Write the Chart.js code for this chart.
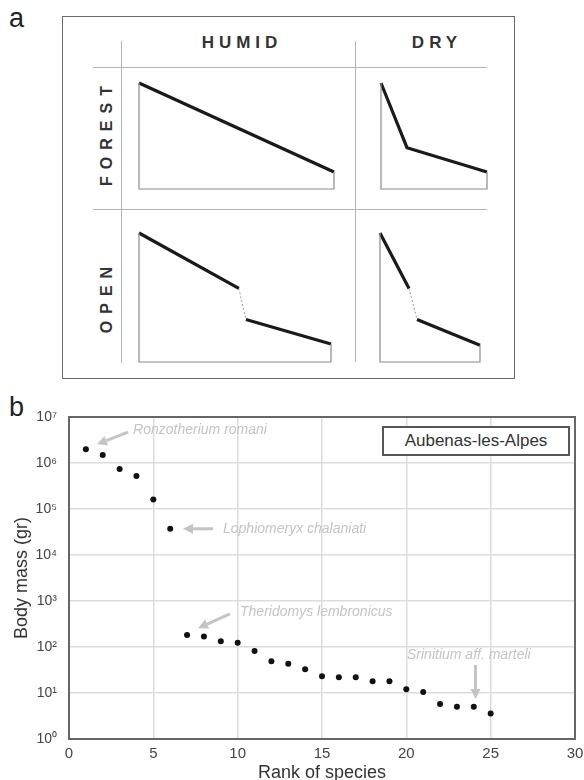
<!DOCTYPE html>
<html>
<head>
<meta charset="utf-8">
<script src="https://cdn.jsdelivr.net/npm/chart.js@4.4.0/dist/chart.umd.min.js"></script>
<style>
body { margin: 0; background: #fff; font-family: "Liberation Sans", Arial, sans-serif; }
#page { position: relative; width: 584px; height: 780px; overflow: hidden; }
.abs { position: absolute; }
.hl { position: absolute; height: 1px; background: #b4b4b4; }
.vl { position: absolute; width: 1px; background: #b4b4b4; }
.head { position: absolute; font-weight: bold; font-size: 17px; letter-spacing: 5px; color: #333; text-align: center; line-height: 20px; }
.side { position: absolute; width: 160px; margin-left: -80px; margin-top: -10px; font-weight: bold; font-size: 16px; letter-spacing: 7px; color: #333; text-align: center; line-height: 20px; transform: rotate(-90deg); }
.panel { position: absolute; font-size: 27px; color: #222; line-height: 30px; }
#tag { position: absolute; left: 382px; top: 426px; width: 184px; height: 26px; border: 2px solid #555; font-size: 17px; color: #333; line-height: 26px; text-align: center; background: #fff; }
</style>
</head>
<body>
<div id="page">
  <div class="panel" style="left:9px;top:3px;">a</div>
  <div class="abs" style="left:62px;top:16px;width:451px;height:361px;border:1.5px solid #6a6a6a;"></div>
  <div class="hl" style="left:93px;top:67px;width:394px;"></div>
  <div class="hl" style="left:93px;top:209px;width:394px;"></div>
  <div class="vl" style="left:121px;top:41px;height:322px;"></div>
  <div class="vl" style="left:355px;top:41px;height:321px;"></div>
  <div class="head" style="left:137px;top:33px;width:200px;padding-left:5px;">HUMID</div>
  <div class="head" style="left:362px;top:33px;width:140px;padding-left:5px;">DRY</div>
  <div class="side" style="left:103px;top:136px;padding-left:7px;">FOREST</div>
  <div class="side" style="left:103px;top:300px;padding-left:7px;">OPEN</div>

  <canvas id="fh" class="abs" width="203" height="114" style="left:135px;top:79px;"></canvas>
  <canvas id="fd" class="abs" width="114" height="114" style="left:377px;top:79px;"></canvas>
  <canvas id="oh" class="abs" width="200" height="137" style="left:135px;top:229px;"></canvas>
  <canvas id="od" class="abs" width="108" height="137" style="left:376px;top:229px;"></canvas>

  <div class="panel" style="left:9px;top:392px;">b</div>
  <canvas id="massChart" class="abs" width="584" height="390" style="left:0;top:390px;"></canvas>
  <div id="tag">Aubenas-les-Alpes</div>
</div>
<script>
// panel a: schematic rank-size curves (x and y scaled 0..1), split where a gap occurs
var forestHumid = [[[0, 1], [1, 0.16]]];
var forestDry = [[[0, 1], [0.245, 0.39], [1, 0.16]]];
var openHumid = [[[0, 1], [0.52, 0.57]], [[0.557, 0.33], [1, 0.14]]];
var openDry = [[[0, 1], [0.29, 0.57]], [[0.37, 0.33], [1, 0.13]]];

// panel b: body mass by rank
var ranks = [1, 2, 3, 4, 5, 6, 7, 8, 9, 10, 11, 12, 13, 14, 15, 16, 17, 18, 19, 20, 21, 22, 23, 24, 25];
var bodyMass = [2.0e6, 1.5e6, 7.4e5, 5.2e5, 1.6e5, 3.7e4, 182, 170, 133, 124, 82, 49, 43, 33, 23, 22, 22, 18, 18, 12, 10.5, 5.8, 5.0, 5.0, 3.6];
var xTicks = [0, 5, 10, 15, 20, 25, 30];
var yTicks = [1, 10, 100, 1e3, 1e4, 1e5, 1e6, 1e7];
var yTickLabels = ["10⁰", "10¹", "10²", "10³", "10⁴", "10⁵", "10⁶", "10⁷"];

// species notes: label position and arrow, in data units (x rank, y log10 mass)
var noteTexts = ["Ronzotherium romani", "Lophiomeryx chalaniati", "Theridomys lembronicus", "Srinitium aff. marteli"];
var noteAt = [[3.8, 6.72], [9.13, 4.57], [10.14, 2.76], [20.04, 1.83]];
var arrowFrom = [[3.5, 6.67], [8.54, 4.57], [9.54, 2.72], [24.1, 1.61]];
var arrowTo = [[1.66, 6.41], [6.76, 4.57], [7.65, 2.41], [24.1, 0.87]];

function pts(seg) {
  return seg.map(function (p) { return { x: p[0], y: p[1] }; });
}

function schematic(id, segs) {
  var first = segs[0][0];
  var lastSeg = segs[segs.length - 1];
  var last = lastSeg[lastSeg.length - 1];
  var sets = [{
    data: pts([[first[0], first[1]], [first[0], 0], [last[0], 0], [last[0], last[1]]]),
    borderColor: "#8a8a8a", borderWidth: 1.2
  }];
  for (var i = 0; i < segs.length; i++) {
    if (i > 0) {
      var a = segs[i - 1][segs[i - 1].length - 1];
      sets.push({ data: pts([a, segs[i][0]]), borderColor: "#9a9a9a", borderWidth: 1, borderDash: [2, 2] });
    }
    sets.push({ data: pts(segs[i]), borderColor: "#1a1a1a", borderWidth: 3.2, borderCapStyle: "butt" });
  }
  sets.forEach(function (s) { s.pointRadius = 0; s.fill = false; s.tension = 0; s.clip = false; });
  new Chart(document.getElementById(id), {
    type: "line",
    data: { datasets: sets },
    options: {
      responsive: false,
      animation: false,
      layout: { padding: 4 },
      plugins: { legend: { display: false }, tooltip: { enabled: false } },
      scales: {
        x: { type: "linear", min: 0, max: 1, display: false },
        y: { type: "linear", min: 0, max: 1, display: false }
      }
    }
  });
}

schematic("fh", forestHumid);
schematic("fd", forestDry);
schematic("oh", openHumid);
schematic("od", openDry);

function arrow(ctx, x1, y1, x2, y2) {
  var ang = Math.atan2(y2 - y1, x2 - x1);
  var h = 10, w = 5;
  var bx = x2 - h * Math.cos(ang), by = y2 - h * Math.sin(ang);
  ctx.beginPath();
  ctx.moveTo(x1, y1);
  ctx.lineTo(bx, by);
  ctx.stroke();
  ctx.beginPath();
  ctx.moveTo(x2, y2);
  ctx.lineTo(bx + w * Math.sin(ang), by - w * Math.cos(ang));
  ctx.lineTo(bx - w * Math.sin(ang), by + w * Math.cos(ang));
  ctx.closePath();
  ctx.fill();
}

var framePlugin = {
  id: "frame",
  afterDatasetsDraw: function (chart) {
    var ctx = chart.ctx, a = chart.chartArea;
    var sx = chart.scales.x, sy = chart.scales.y;
    ctx.save();
    ctx.strokeStyle = "#c4c4c4";
    ctx.fillStyle = "#c4c4c4";
    ctx.lineWidth = 3;
    for (var i = 0; i < noteTexts.length; i++) {
      arrow(ctx,
        sx.getPixelForValue(arrowFrom[i][0]), sy.getPixelForValue(Math.pow(10, arrowFrom[i][1])),
        sx.getPixelForValue(arrowTo[i][0]), sy.getPixelForValue(Math.pow(10, arrowTo[i][1])));
    }
    ctx.font = "italic 14px 'Liberation Sans', Arial, sans-serif";
    ctx.textBaseline = "middle";
    ctx.textAlign = "left";
    for (var j = 0; j < noteTexts.length; j++) {
      ctx.fillText(noteTexts[j], sx.getPixelForValue(noteAt[j][0]), sy.getPixelForValue(Math.pow(10, noteAt[j][1])));
    }
    ctx.strokeStyle = "#666";
    ctx.lineWidth = 2;
    ctx.strokeRect(a.left, a.top, a.right - a.left, a.bottom - a.top);
    ctx.restore();
  }
};

new Chart(document.getElementById("massChart"), {
  type: "scatter",
  data: {
    datasets: [{
      data: ranks.map(function (r, i) { return { x: r, y: bodyMass[i] }; }),
      pointRadius: 3,
      pointBackgroundColor: "#111",
      pointBorderWidth: 0
    }]
  },
  options: {
    responsive: false,
    animation: false,
    layout: { padding: { top: 27, right: 9, left: 0, bottom: 0 } },
    plugins: { legend: { display: false }, tooltip: { enabled: false } },
    scales: {
      x: {
        type: "linear", min: 0, max: 30,
        afterBuildTicks: function (s) { s.ticks = xTicks.map(function (v) { return { value: v }; }); },
        afterFit: function (s) { s.height = 41; s.paddingRight = 0; s.paddingLeft = 0; },
        grid: { color: "#dcdcdc", lineWidth: 1.5, drawTicks: false },
        border: { display: false },
        ticks: { color: "#444", font: { size: 15 }, padding: 6, maxRotation: 0 },
        title: { display: true, text: "Rank of species", color: "#333", font: { size: 18 }, padding: { top: 0, bottom: -4 } }
      },
      y: {
        type: "logarithmic", min: 1, max: 1e7,
        afterBuildTicks: function (s) { s.ticks = yTicks.map(function (v) { return { value: v }; }); },
        afterFit: function (s) { s.width = 69; },
        grid: { color: "#dcdcdc", lineWidth: 1.5, drawTicks: false },
        border: { display: false },
        ticks: {
          color: "#444", font: { size: 14 }, padding: 12,
          callback: function (v) { return yTickLabels[yTicks.indexOf(v)]; }
        },
        title: { display: true, text: "Body mass (gr)", color: "#333", font: { size: 18 }, padding: { top: 11, bottom: 0 } }
      }
    }
  },
  plugins: [framePlugin]
});
</script>
</body>
</html>
